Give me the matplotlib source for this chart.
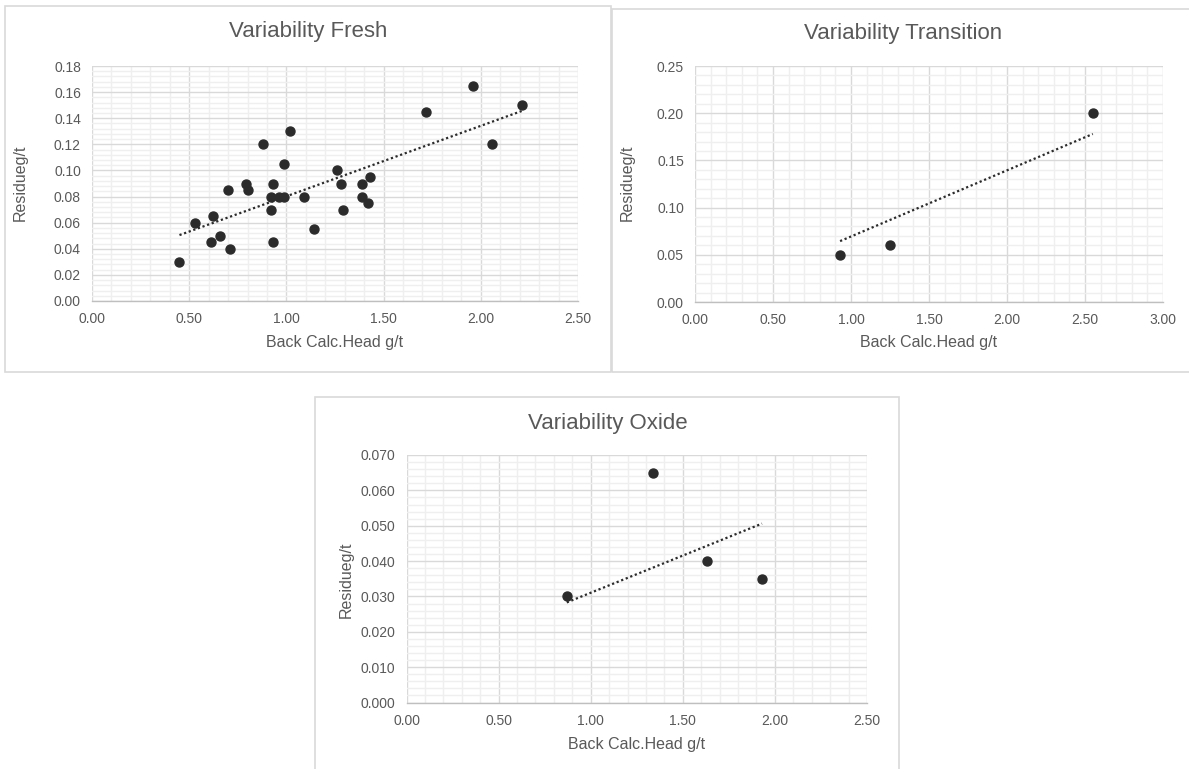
#!/usr/bin/env python3
"""Three Excel-style scatter panels: residue vs back-calculated head grade."""

import matplotlib
matplotlib.use("Agg")
import matplotlib.pyplot as plt
from matplotlib.patches import Rectangle
from matplotlib.ticker import MultipleLocator, FormatStrFormatter

plt.rcParams["font.family"] = ["Liberation Sans", "DejaVu Sans"]

# --- data --------------------------------------------------------------
fresh_head = [0.45, 0.53, 0.61, 0.62, 0.66, 0.71, 0.70, 0.79, 0.80, 0.88,
              0.92, 0.92, 0.93, 0.93, 0.96, 0.99, 0.99, 1.02, 1.09, 1.14,
              1.26, 1.28, 1.29, 1.39, 1.39, 1.42, 1.43, 1.72, 1.96, 2.06,
              2.21]
fresh_residue = [0.030, 0.060, 0.045, 0.065, 0.050, 0.040, 0.085, 0.090,
                 0.085, 0.120, 0.080, 0.070, 0.090, 0.045, 0.080, 0.080,
                 0.105, 0.130, 0.080, 0.055, 0.100, 0.090, 0.070, 0.090,
                 0.080, 0.075, 0.095, 0.145, 0.165, 0.120, 0.150]
fresh_trend = [0.0505, 0.1455]

transition_head = [0.93, 1.25, 2.55]
transition_residue = [0.050, 0.060, 0.200]
transition_trend = [0.0645, 0.178]

oxide_head = [0.87, 1.34, 1.63, 1.93]
oxide_residue = [0.030, 0.065, 0.040, 0.035]
oxide_trend = [0.0283, 0.0506]

W, H = 1189, 769
TXT = "#595959"
MAJOR = "#d9d9d9"
MINOR = "#efefef"
DOT = "#2b2b2b"


def px_rect(left, top, right, bottom):
    """Pixel box (top-left origin) -> figure fraction [l, b, w, h]."""
    return [left / W, 1 - bottom / H, (right - left) / W, (bottom - top) / H]


def panel(fig, box, x, y, trend, xmax, ymax, ymaj, ymin, yfmt,
          title, title_xy, xlab_xy, ylab_xy):
    ax = fig.add_axes(px_rect(*box))
    ax.set_xlim(0, xmax)
    ax.set_ylim(0, ymax)
    ax.xaxis.set_major_locator(MultipleLocator(0.5))
    ax.xaxis.set_minor_locator(MultipleLocator(0.1))
    ax.yaxis.set_major_locator(MultipleLocator(ymaj))
    ax.yaxis.set_minor_locator(MultipleLocator(ymin))
    ax.xaxis.set_major_formatter(FormatStrFormatter("%.2f"))
    ax.yaxis.set_major_formatter(FormatStrFormatter(yfmt))
    ax.grid(which="minor", color=MINOR, linewidth=1.0)
    ax.grid(which="major", color=MAJOR, linewidth=1.0)
    ax.set_axisbelow(True)
    for side in ("top", "right", "left"):
        ax.spines[side].set_visible(False)
    ax.spines["bottom"].set_color("#bfbfbf")
    ax.spines["bottom"].set_linewidth(1.0)
    ax.tick_params(which="both", length=0, labelsize=10, labelcolor=TXT, pad=8)

    ax.plot([min(x), max(x)], trend, color=DOT, linewidth=1.6,
            linestyle=(0, (1, 1.2)), zorder=3)
    ax.scatter(x, y, s=42, color=DOT, zorder=4, clip_on=False)

    fig.text(title_xy[0] / W, 1 - title_xy[1] / H, title, ha="center",
             va="center", fontsize=16, color=TXT)
    fig.text(xlab_xy[0] / W, 1 - xlab_xy[1] / H, "Back Calc.Head g/t",
             ha="center", va="center", fontsize=11.5, color=TXT)
    fig.text(ylab_xy[0] / W, 1 - ylab_xy[1] / H, "Residueg/t", ha="center",
             va="center", fontsize=11.5, color=TXT, rotation=90)
    return ax


fig = plt.figure(figsize=(W / 100, H / 100), dpi=100)

# chart-area borders
for l, t, r, b in [(5, 6, 611, 372), (612, 8.5, 1195, 372),
                   (314.5, 396.5, 899, 780)]:
    fig.patches.append(Rectangle((l / W, 1 - b / H), (r - l) / W, (b - t) / H,
                                 transform=fig.transFigure, fill=False,
                                 edgecolor=MAJOR, linewidth=1.2))

panel(fig, (92, 66, 578, 301), fresh_head, fresh_residue, fresh_trend,
      2.5, 0.18, 0.02, 0.004, "%.2f", "Variability Fresh",
      (308, 32), (335, 342), (20, 183))
panel(fig, (695, 66, 1163, 302), transition_head, transition_residue,
      transition_trend, 3.0, 0.25, 0.05, 0.01, "%.2f",
      "Variability Transition", (903, 34), (929, 343), (627, 183))
panel(fig, (406.5, 455, 867, 702.5), oxide_head, oxide_residue, oxide_trend,
      2.5, 0.070, 0.010, 0.002, "%.3f", "Variability Oxide",
      (608, 423), (637, 745), (346, 580))

fig.savefig("out.png", dpi=100)
plt.close(fig)
